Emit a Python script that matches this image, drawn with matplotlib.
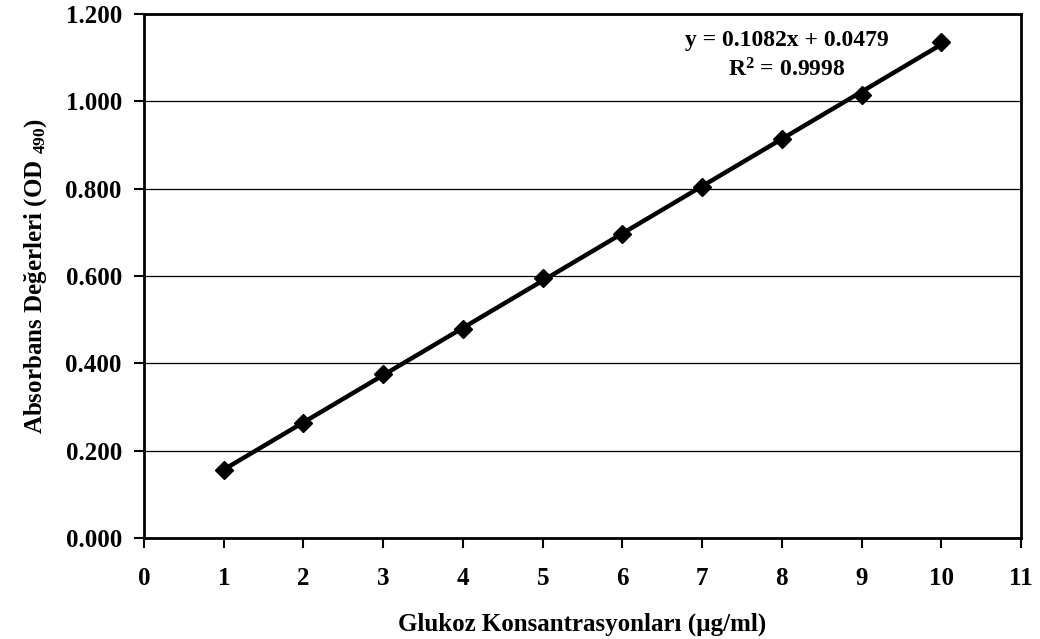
import numpy as np
import matplotlib
matplotlib.use('Agg')
import matplotlib.pyplot as plt

plt.rcParams['font.family'] = ['Liberation Serif', 'DejaVu Serif']
plt.rcParams['font.weight'] = 'bold'
plt.rcParams['mathtext.fontset'] = 'custom'
plt.rcParams['mathtext.rm'] = 'Liberation Serif:bold'
plt.rcParams['mathtext.it'] = 'Liberation Serif:bold'
plt.rcParams['mathtext.bf'] = 'Liberation Serif:bold'

# konsantrasyon (µg/ml) ve absorbans degerleri
konsantrasyon = [1, 2, 3, 4, 5, 6, 7, 8, 9, 10]
absorbans = [0.156, 0.263, 0.376, 0.479, 0.596, 0.696, 0.804, 0.915, 1.014, 1.136]
x_ticks = list(range(0, 12))
y_ticks = [0.0, 0.2, 0.4, 0.6, 0.8, 1.0, 1.2]

fig = plt.figure(figsize=(10.4, 6.39), dpi=100)
ax = fig.add_axes([0.1385, 0.158, 0.8432, 0.820])

# trend cizgisi
egim, kesim = np.polyfit(konsantrasyon, absorbans, 1)
xx = np.array([konsantrasyon[0], konsantrasyon[-1]])
ax.plot(xx, egim * xx + kesim, color='black', lw=3.2, zorder=3)
ax.plot(konsantrasyon, absorbans, linestyle='none', marker='D', markersize=9.5,
        color='black', zorder=4)

ax.set_xlim(0, 11)
ax.set_ylim(0, 1.2)
ax.set_xticks(x_ticks)
ax.set_yticks(y_ticks)
ax.set_yticklabels(['%.3f' % v for v in y_ticks])
ax.yaxis.grid(True, color='black', lw=0.9)
ax.set_axisbelow(True)
ax.tick_params(direction='out', length=7, width=1.5, labelsize=18, pad=9)
ax.tick_params(axis='x', pad=14)
for s in ax.spines.values():
    s.set_linewidth(2)
    s.set_color('black')

ax.set_xlabel('Glukoz Konsantrasyonları (µg/ml)', fontsize=18, fontweight='bold', labelpad=16)
ax.set_ylabel('Absorbans Değerleri (OD $_{490}$)', fontsize=18, fontweight='bold', labelpad=12)

ax.text(0.733, 0.950, 'y = 0.1082x + 0.0479', transform=ax.transAxes,
        ha='center', va='center', fontsize=17, fontweight='bold')
ax.text(0.733, 0.893, 'R$^{2}$ = 0.9998', transform=ax.transAxes,
        ha='center', va='center', fontsize=17, fontweight='bold')

fig.savefig('out.png', dpi=100)
